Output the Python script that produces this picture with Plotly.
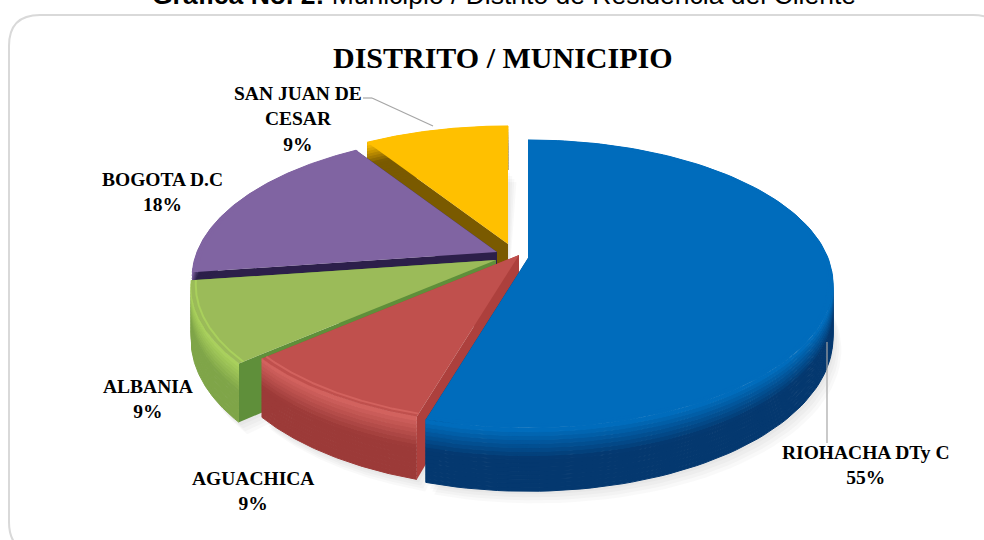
import numpy as np
import plotly.graph_objects as go

# ---- data ----
categories = ["RIOHACHA DTy C", "AGUACHICA", "ALBANIA", "BOGOTA D.C", "SAN JUAN DE<br>CESAR"]
counts = [6, 1, 1, 2, 1]

# ---- style / view ----
top_colors = ["#006cbc", "#c0504d", "#9bbb59", "#8064a2", "#ffc000"]
rim_colors = ["#006cbc", "#d2625e", "#a9d05c", "#8064a2", "#ffc000"]
wall_colors = ["#04386f", "#9c3a38", "#7fa548", "#2c1f4a", "#7a5a00"]
edge_colors = ["#04386f", "#ad403d", "#5f8f3a", "#2c1f4a", "#7a5a00"]
apex_x = [528, 519, 496, 497, 508]
apex_y = [258, 255, 260, 252, 244]
draw_order = [4, 3, 2, 1, 0]
label_x = [866, 253, 148, 162, 298]
label_y = [465, 491, 399, 192, 119]
R, RQ, P, H = 300.0, 139.3, 0.18, 52.0
FRAME = "#d9d9d9"
LABEL_FONT = "Liberation Serif"


def mix(a, b, t):
    ca = [int(a[i:i + 2], 16) for i in (1, 3, 5)]
    cb = [int(b[i:i + 2], 16) for i in (1, 3, 5)]
    return "#%02x%02x%02x" % tuple(round(x + (y - x) * t) for x, y in zip(ca, cb))


def project(ax, ay, theta, z=0.0, r=1.0):
    s, c = np.sin(theta) * r, np.cos(theta) * r
    w = 1 + P * c
    return ax + R * s / w, ay - RQ * c / w + H * z / w


def poly(xs, ys, color, lw=0.0):
    return go.Scatter(x=list(xs), y=list(ys), mode="lines", fill="toself", fillcolor=color,
                      line=dict(width=lw, color=color), hoverinfo="skip", showlegend=False)


fig = go.Figure()
total = sum(counts)
edges = 2 * np.pi * np.concatenate([[0], np.cumsum(counts)]) / total
percents = [round(100 * c / total) for c in counts]

# soft shadow under the pie
for i in draw_order:
    th = np.linspace(edges[i], edges[i + 1], 80)
    for off in (3, 6, 9, 12):
        x, y = project(apex_x[i], apex_y[i], th, 1.0)
        fig.add_trace(poly(np.r_[apex_x[i], x + off * 0.7], np.r_[apex_y[i] + H, y + off],
                           "rgba(90,90,90,0.035)"))

for i in draw_order:
    ax, ay = apex_x[i], apex_y[i]
    th = np.linspace(edges[i], edges[i + 1], 120)
    # radial cut faces
    for a in (edges[i], edges[i + 1]):
        x0, y0 = project(ax, ay, a)
        x1, y1 = project(ax, ay, a, 1.0)
        fig.add_trace(poly([ax, x0, x1, ax], [ay, y0, y1, ay + H], edge_colors[i]))
    # outer wall, drawn as overlapping bands from the bottom up
    n = 16
    for b in range(n - 1, -1, -1):
        t0, t1 = b / n, (b + 1) / n
        color = mix(rim_colors[i], wall_colors[i], min(1.0, t0 / 0.45))
        x0, y0 = project(ax, ay, th, t0)
        x1, y1 = project(ax, ay, th, t1)
        fig.add_trace(poly(np.r_[x0, x1[::-1]], np.r_[y0, y1[::-1]], color, 1.0))
    # top face
    x, y = project(ax, ay, th)
    fig.add_trace(poly(np.r_[ax, x], np.r_[ay, y], top_colors[i]))
    # bevel highlight along the rim
    xr, yr = project(ax, ay, th, 0.0, 0.985)
    fig.add_trace(go.Scatter(x=xr, y=yr, mode="lines", hoverinfo="skip", showlegend=False,
                             line=dict(width=2, color=rim_colors[i])))

# leader lines and frame
line_style = dict(type="line", xref="x", yref="y", line=dict(color="#a6a6a6", width=1.2))
shapes = [
    dict(line_style, x0=363, y0=98, x1=372, y1=98),
    dict(line_style, x0=372, y0=98, x1=433, y1=126),
    dict(line_style, x0=827, y0=342, x1=827, y1=443),
    dict(type="path", xref="x", yref="y", line=dict(color=FRAME, width=2),
         path="M 40 553 Q 9 553 9 522 L 9 46 Q 9 15 40 15 L 973 15 Q 1004 15 1004 46"),
]

annotations = [
    dict(x=503, y=57, xref="x", yref="y", showarrow=False, text="<b>DISTRITO / MUNICIPIO</b>",
         font=dict(family=LABEL_FONT, size=30, color="#000000")),
    dict(x=504, y=0, yshift=5, xref="x", yref="y", showarrow=False,
         text="<b>Gráfica No. 2:</b> Municipio / Distrito de Residencia del Cliente",
         font=dict(family="Liberation Sans", size=26.5, color="#000000")),
]
for name, pct, lx, ly in zip(categories, percents, label_x, label_y):
    annotations.append(dict(x=lx, y=ly, xref="x", yref="y", showarrow=False, align="center",
                            text=f"<b>{name}<br>{pct}%</b>",
                            font=dict(family=LABEL_FONT, size=19.5, color="#000000")))

fig.update_layout(width=984, height=540, autosize=False, margin=dict(l=0, r=0, t=0, b=0),
                  paper_bgcolor="#ffffff", plot_bgcolor="#ffffff", showlegend=False,
                  xaxis=dict(range=[0, 984], visible=False, fixedrange=True),
                  yaxis=dict(range=[540, 0], visible=False, fixedrange=True),
                  shapes=shapes, annotations=annotations)
fig.write_html("out.html", config={"displayModeBar": False},
               post_script="document.body.style.margin='0';")
